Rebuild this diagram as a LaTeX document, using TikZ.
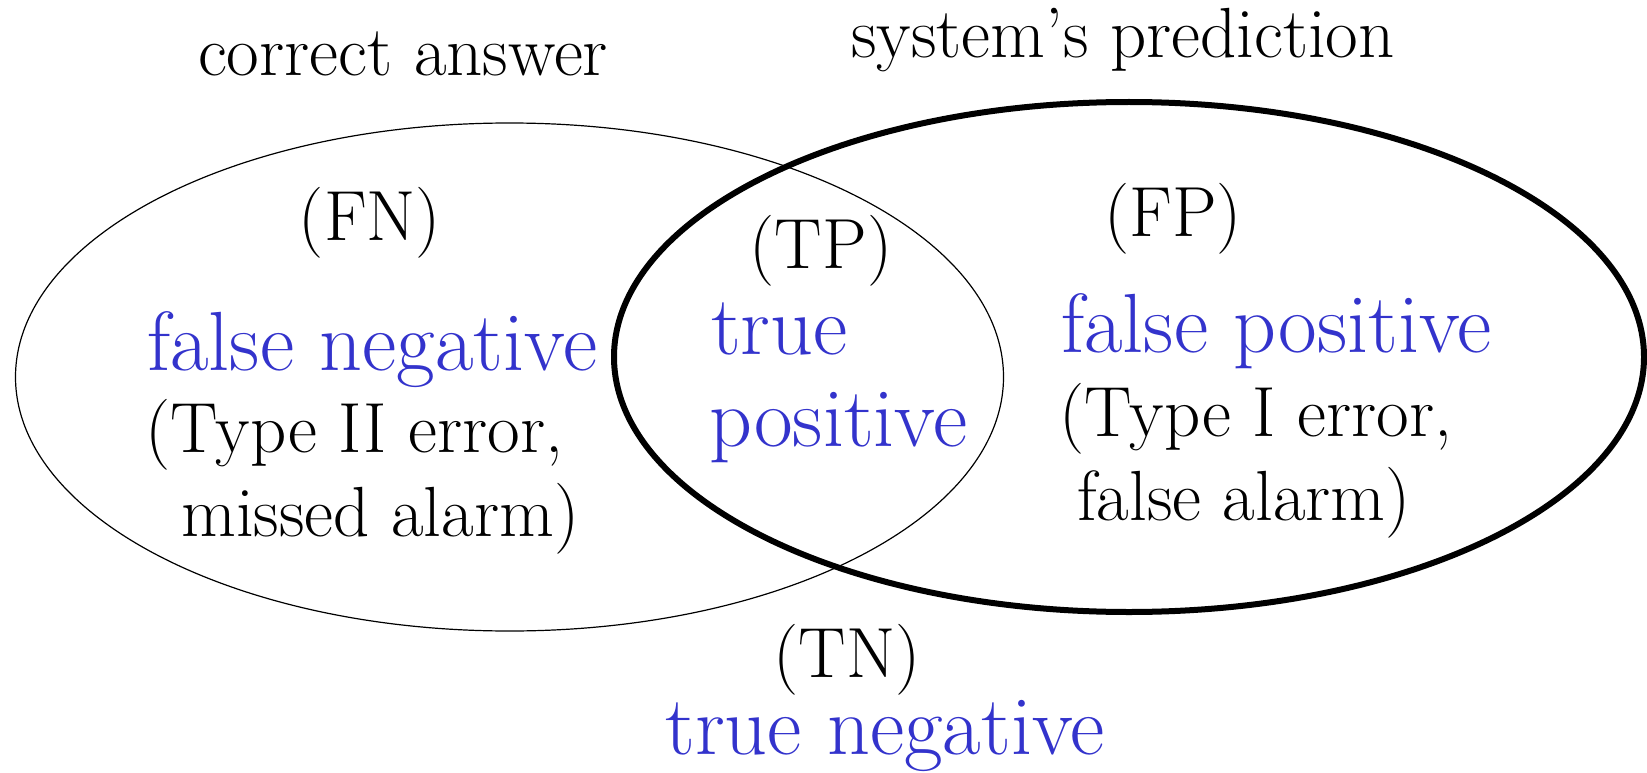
\documentclass[tikz,border=0pt]{standalone}
\usepackage{fontspec}
\definecolor{tblue}{RGB}{51,51,204}
\begin{document}
\begin{tikzpicture}[x=1pt,y=-1pt,
  blk/.style={inner sep=0pt,font=\fontsize{71}{73}\selectfont,text=black},
  blu/.style={inner sep=0pt,font=\fontsize{84}{86}\selectfont,text=tblue}]
\useasboundingbox (0,0) rectangle (1647,773);
\draw[line width=1.2pt] (509.5,377) ellipse [x radius=494, y radius=254];
\draw[line width=6pt] (1129,357) ellipse [x radius=515, y radius=255];
\node[blk,anchor=base] (ca) at (403,76) {correct answer};
\node[blk,anchor=base] (sp) at (1123,58) {system’s prediction};
\node[blk,anchor=base] (fn) at (370,240) {(FN)};
\node[blk,anchor=base] (tp) at (821,268) {(TP)};
\node[blk,anchor=base] (fp) at (1173,236) {(FP)};
\node[blu,anchor=base west] (fneg) at (147,370) {false negative};
\node[blk,anchor=base west] (t2a) at (145,452) {(Type II error,};
\node[blk,anchor=base west] (t2b) at (181,536) {missed alarm)};
\node[blu,anchor=base west] (tp1) at (711,354) {true};
\node[blu,anchor=base west] (tp2) at (709,446) {positive};
\node[blu,anchor=base west] (fpos) at (1061,352) {false positive};
\node[blk,anchor=base west] (t1a) at (1059,436) {(Type I error,};
\node[blk,anchor=base west] (t1b) at (1077,520) {false alarm)};
\node[blk,anchor=base] (tn) at (847,677) {(TN)};
\node[blu,anchor=base] (tneg) at (885,754) {true negative};
\end{tikzpicture}
\end{document}
